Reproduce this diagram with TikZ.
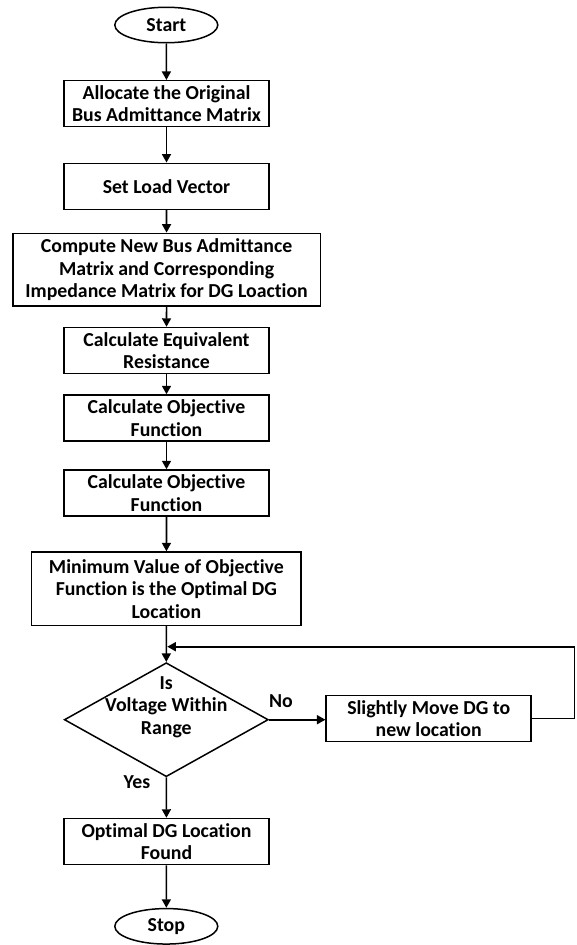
\documentclass[tikz,border=0pt]{standalone}
\usepackage{fontspec}
\setmainfont{Carlito}[Ligatures={NoCommon}]
\usetikzlibrary{shapes.geometric,arrows.meta}
\begin{document}
\begin{tikzpicture}[x=1pt,y=-1pt,
  every node/.style={font=\bfseries\fontsize{19.8}{22.5}\selectfont, align=center, inner sep=0pt},
  procbox/.style={draw, line width=1.5pt, rectangle, minimum width=205pt, minimum height=46pt},
  term/.style={draw, ellipse, line width=1.5pt, minimum width=103pt, minimum height=35.5pt},
  decision/.style={draw, diamond, line width=1.5pt, aspect=1.79, minimum width=204pt, minimum height=114pt},
  flow/.style={line width=1.6pt, -{Triangle[length=8.5pt,width=9pt]}},
  tag/.style={}
]
\useasboundingbox (0,0) rectangle (576,945);

% main column
\node[term] (start) at (166.3,25) {Start};
\node[procbox] (alloc) at (166.5,103.7) {Allocate the Original\\Bus Admittance Matrix};
\node[procbox] (load) at (166.5,186.3) {Set Load Vector};
\node[procbox, minimum width=307.5pt, minimum height=72.7pt] (newy) at (166.6,269.7)
  {Compute New Bus Admittance\\Matrix and Corresponding\\Impedance Matrix for DG Loaction};
\node[procbox] (req) at (166.5,350.5) {Calculate Equivalent\\Resistance};
\node[procbox] (obj1) at (166.5,418) {Calculate Objective\\Function};
\node[procbox] (obj2) at (166.5,493) {Calculate Objective\\Function};
\node[procbox, minimum width=269.6pt, minimum height=73.3pt] (minv) at (166.4,588.7)
  {Minimum Value of Objective\\Function is the Optimal DG\\Location};
\node[decision] (dec) at (166.3,719.7) {};
\node (dectext) at (166.3,707) {Is\\Voltage Within\\Range};
\node[procbox, minimum height=45.7pt] (move) at (428.7,718.5) {Slightly Move DG to\\new location};
\node[procbox] (found) at (166.5,841.5) {Optimal DG Location\\Found};
\node[term] (stop) at (166.3,926.3) {Stop};

% branch labels
\node[tag] (nolab) at (281,701) {No};
\node[tag] (yeslab) at (137,782) {Yes};

% connectors
\draw[flow] (start) -- (alloc);
\draw[flow] (alloc) -- (load);
\draw[flow] (load) -- (newy);
\draw[flow] (newy) -- (req);
\draw[flow] (req) -- (obj1);
\draw[flow] (obj1) -- (obj2);
\draw[flow] (obj2) -- (minv);
\draw[flow] (minv) -- (dec.north);
\draw[flow] (dec.east) -- (dec.east -| move.west);
\draw[flow] (dec.south) -- (found);
\draw[flow] (found) -- (stop);

% return path from the relocation step
\coordinate (loopc) at (574.5,646.7);
\coordinate (join) at (167.3,646.7);
\draw[flow] (move.east) -- (move.east -| loopc) -- (loopc) -- (join);
\end{tikzpicture}
\end{document}
